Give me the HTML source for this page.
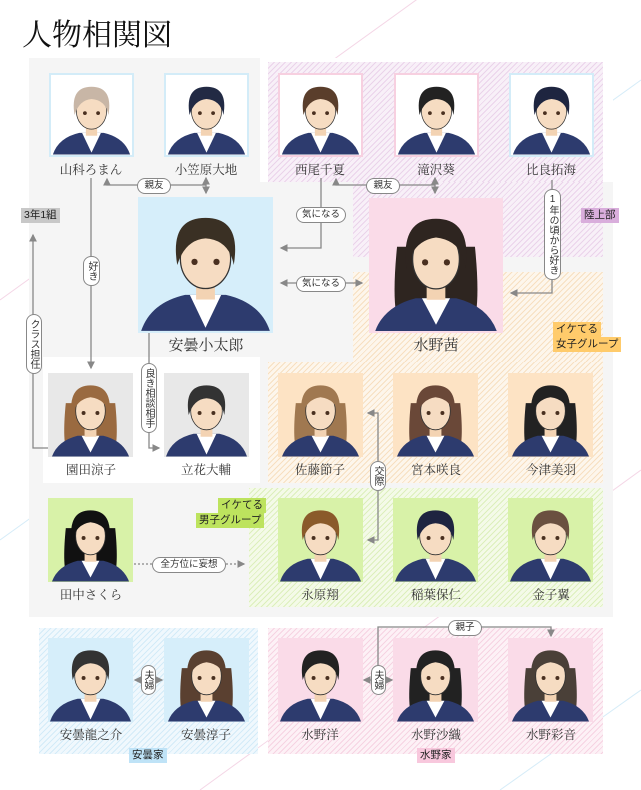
<!DOCTYPE html>
<html><head><meta charset="utf-8">
<style>
*{margin:0;padding:0;box-sizing:border-box}
body{width:641px;height:790px;background:#fff;position:relative;overflow:hidden;font-family:"Liberation Serif","Noto Serif CJK SC",serif}
.a{position:absolute}
.title{left:22px;top:10px;font-size:30px;color:#111;letter-spacing:0px;font-family:"Liberation Serif","Noto Serif CJK JP","Noto Serif CJK SC",serif}
.st-p{background:repeating-linear-gradient(135deg,#ead3ea 0 1px,#f8f0f8 1px 4px)}
.st-o{background:repeating-linear-gradient(135deg,#f7dfc0 0 1px,#fdf6ec 1px 4px)}
.st-g{background:repeating-linear-gradient(135deg,#dcefbb 0 1px,#f4fae8 1px 4px)}
.st-b{background:repeating-linear-gradient(135deg,#d3ebf8 0 1px,#f0f8fd 1px 4px)}
.st-k{background:repeating-linear-gradient(135deg,#f6d3e2 0 1px,#fdf1f6 1px 4px)}
.ph{position:absolute;width:85px;height:84px;overflow:hidden}
.ph svg{width:100%;height:100%;display:block}
.bw{background:#fff;border:2px solid #d3ecf8}
.bp{background:#fff;border:2px solid #f7d0e0}
.nm{position:absolute;font-size:12.5px;color:#333;text-align:center;width:120px;margin-left:-60px;white-space:nowrap}
.pill{position:absolute;background:#fff;border:1px solid #888;border-radius:8px;font-family:"Liberation Sans","Noto Sans CJK JP",sans-serif;font-size:9.5px;color:#333;text-align:center;line-height:14px;white-space:nowrap}
.v{writing-mode:vertical-rl;text-orientation:upright;line-height:15px;padding:4px 0;letter-spacing:0;font-size:10px}
.lab{position:absolute;font-family:"Liberation Sans","Noto Sans CJK JP",sans-serif;font-size:10.5px;color:#222;line-height:15px;padding:0 3px;white-space:nowrap}
</style></head><body>
<svg class="a" style="left:0;top:0" width="641" height="790">
<line x1="0" y1="300" x2="430" y2="-10" stroke="#f4d6e6" stroke-width="1"/>
<line x1="0" y1="540" x2="641" y2="80" stroke="#d6ecf8" stroke-width="1"/>
<line x1="200" y1="790" x2="641" y2="470" stroke="#f4d6e6" stroke-width="1"/>
<line x1="500" y1="790" x2="641" y2="690" stroke="#d6ecf8" stroke-width="1"/>
</svg>
<div class="a title">人物相関図</div>

<div class="a" style="left:29px;top:58px;width:231px;height:130px;background:#f5f5f5"></div>
<div class="a" style="left:29px;top:182px;width:584px;height:435px;background:#f5f5f5"></div>
<div class="a" style="left:260px;top:58px;width:353px;height:124px;background:#fff"></div>
<div class="a st-p" style="left:268px;top:62px;width:335px;height:120px"></div>
<div class="a st-p" style="left:353px;top:182px;width:250px;height:75px"></div>
<div class="a st-o" style="left:353px;top:272px;width:250px;height:92px"></div>
<div class="a st-o" style="left:268px;top:362px;width:335px;height:121px"></div>
<div class="a" style="left:43px;top:357px;width:217px;height:126px;background:#fff"></div>
<div class="a st-g" style="left:249px;top:488px;width:354px;height:119px"></div>
<div class="a st-b" style="left:39px;top:628px;width:219px;height:126px"></div>
<div class="a st-k" style="left:268px;top:628px;width:335px;height:126px"></div>

<svg width="0" height="0" style="position:absolute">
<defs>
<symbol id="m" viewBox="0 0 86 84">
<path d="M2 84 Q8 66 30 61 L56 61 Q78 66 84 84 Z" fill="#2d3b6e"/>
<path d="M33 61 L43 82 L53 61 Z" fill="#fff"/>
<rect x="37" y="50" width="12" height="14" fill="#f3d3b3"/>
<ellipse cx="43" cy="38" rx="16" ry="19" fill="#f6dcc2" stroke="#333" stroke-width="0.8"/>
<path d="M25 42 Q20 12 43 12 Q66 12 61 42 Q58 26 43 25 Q30 26 25 42 Z" fill="currentColor"/>
<circle cx="36" cy="40" r="2" fill="#4a3020"/><circle cx="50" cy="40" r="2" fill="#4a3020"/>
</symbol>
<symbol id="f" viewBox="0 0 86 84">
<path d="M18 30 Q14 70 20 82 L66 82 Q72 70 68 30 Z" fill="currentColor"/>
<path d="M4 84 Q10 68 30 63 L56 63 Q76 68 82 84 Z" fill="#2d3b6e"/>
<path d="M34 63 L43 80 L52 63 Z" fill="#fff"/>
<rect x="37" y="50" width="12" height="14" fill="#f3d3b3"/>
<ellipse cx="43" cy="38" rx="15" ry="19" fill="#f6dcc2" stroke="#333" stroke-width="0.8"/>
<path d="M24 44 Q20 12 43 12 Q66 12 62 44 Q60 26 43 24 Q28 26 24 44 Z" fill="currentColor"/>
<circle cx="36" cy="40" r="2" fill="#4a3020"/><circle cx="50" cy="40" r="2" fill="#4a3020"/>
</symbol>
</defs>
</svg>

<div class="ph bw" style="left:49px;top:73px"><svg><use href="#m" style="color:#c8b6a6"/></svg></div>
<div class="ph bw" style="left:164px;top:73px"><svg><use href="#m" style="color:#222a44"/></svg></div>
<div class="ph bp" style="left:278px;top:73px"><svg><use href="#m" style="color:#5a3e2b"/></svg></div>
<div class="ph bp" style="left:394px;top:73px"><svg><use href="#m" style="color:#222"/></svg></div>
<div class="ph bw" style="left:509px;top:73px"><svg><use href="#m" style="color:#1e2540"/></svg></div>
<div class="nm" style="left:91px;top:160px">山科ろまん</div>
<div class="nm" style="left:206px;top:160px">小笠原大地</div>
<div class="nm" style="left:320px;top:160px">西尾千夏</div>
<div class="nm" style="left:436px;top:160px">滝沢葵</div>
<div class="nm" style="left:551px;top:160px">比良拓海</div>

<div class="ph" style="left:138px;top:197px;width:135px;height:136px;background:#d6eefa"><svg><use href="#m" style="color:#3a3024"/></svg></div>
<div class="ph" style="left:369px;top:198px;width:134px;height:135px;background:#fadbe8"><svg><use href="#f" style="color:#2e2520"/></svg></div>
<div class="nm" style="left:206px;top:334px;font-size:15px">安曇小太郎</div>
<div class="nm" style="left:436px;top:334px;font-size:15px">水野茜</div>

<div class="ph" style="left:48px;top:373px;background:#e8e8e8"><svg><use href="#f" style="color:#9a6a40"/></svg></div>
<div class="ph" style="left:164px;top:373px;background:#e8e8e8"><svg><use href="#m" style="color:#333"/></svg></div>
<div class="ph" style="left:278px;top:373px;background:#fde3c4"><svg><use href="#f" style="color:#a07850"/></svg></div>
<div class="ph" style="left:393px;top:373px;background:#fde3c4"><svg><use href="#f" style="color:#6a4838"/></svg></div>
<div class="ph" style="left:508px;top:373px;background:#fde3c4"><svg><use href="#f" style="color:#222"/></svg></div>
<div class="nm" style="left:91px;top:460px">園田涼子</div>
<div class="nm" style="left:206px;top:460px">立花大輔</div>
<div class="nm" style="left:320px;top:460px">佐藤節子</div>
<div class="nm" style="left:436px;top:460px">宮本咲良</div>
<div class="nm" style="left:551px;top:460px">今津美羽</div>

<div class="ph" style="left:48px;top:498px;background:#d8f2a8"><svg><use href="#f" style="color:#111"/></svg></div>
<div class="ph" style="left:278px;top:498px;background:#d8f2a8"><svg><use href="#m" style="color:#8a5a2a"/></svg></div>
<div class="ph" style="left:393px;top:498px;background:#d8f2a8"><svg><use href="#m" style="color:#1e2440"/></svg></div>
<div class="ph" style="left:508px;top:498px;background:#d8f2a8"><svg><use href="#m" style="color:#6a5040"/></svg></div>
<div class="nm" style="left:91px;top:585px">田中さくら</div>
<div class="nm" style="left:320px;top:585px">永原翔</div>
<div class="nm" style="left:436px;top:585px">稲葉保仁</div>
<div class="nm" style="left:551px;top:585px">金子翼</div>

<div class="ph" style="left:48px;top:638px;background:#d6eefa"><svg><use href="#m" style="color:#333"/></svg></div>
<div class="ph" style="left:164px;top:638px;background:#d6eefa"><svg><use href="#f" style="color:#5a4030"/></svg></div>
<div class="ph" style="left:278px;top:638px;background:#fadbe8"><svg><use href="#m" style="color:#222"/></svg></div>
<div class="ph" style="left:393px;top:638px;background:#fadbe8"><svg><use href="#f" style="color:#222"/></svg></div>
<div class="ph" style="left:508px;top:638px;background:#fadbe8"><svg><use href="#f" style="color:#4a4038"/></svg></div>
<div class="nm" style="left:91px;top:725px">安曇龍之介</div>
<div class="nm" style="left:206px;top:725px">安曇淳子</div>
<div class="nm" style="left:320px;top:725px">水野洋</div>
<div class="nm" style="left:436px;top:725px">水野沙織</div>
<div class="nm" style="left:551px;top:725px">水野彩音</div>

<svg class="a" style="left:0;top:0" width="641" height="790">
<defs><marker id="ar" viewBox="0 0 6 6" refX="5" refY="3" markerWidth="6" markerHeight="6" orient="auto"><path d="M0 0 L6 3 L0 6 Z" fill="#888"/></marker></defs>
<g stroke="#888" stroke-width="1.3" fill="none">
<path d="M206 185 H107 V179" marker-end="url(#ar)"/>
<line x1="206" y1="185" x2="206" y2="178" marker-end="url(#ar)"/>
<line x1="206" y1="185" x2="206" y2="193" marker-end="url(#ar)"/>
<path d="M435 185 H336 V179" marker-end="url(#ar)"/>
<line x1="435" y1="185" x2="435" y2="178" marker-end="url(#ar)"/>
<line x1="435" y1="185" x2="435" y2="193" marker-end="url(#ar)"/>
<path d="M321 178 V248 H281" marker-end="url(#ar)"/>
<line x1="321" y1="283" x2="281" y2="283" marker-end="url(#ar)"/>
<line x1="321" y1="283" x2="362" y2="283" marker-end="url(#ar)"/>
<path d="M552 180 V293 H511" marker-end="url(#ar)"/>
<line x1="91" y1="178" x2="91" y2="368" marker-end="url(#ar)"/>
<path d="M48 448 H33 V235" marker-end="url(#ar)"/>
<path d="M149 333 V448 H159" marker-end="url(#ar)"/>
<path d="M369 413 H378 V540 H369" />
<path d="M374 413 H368" marker-end="url(#ar)"/>
<path d="M374 540 H368" marker-end="url(#ar)"/>
<path d="M134 564 H244" stroke-dasharray="2 2" marker-end="url(#ar)"/>
<line x1="148" y1="680" x2="135" y2="680" marker-end="url(#ar)"/>
<line x1="148" y1="680" x2="162" y2="680" marker-end="url(#ar)"/>
<line x1="378" y1="680" x2="364" y2="680" marker-end="url(#ar)"/>
<line x1="378" y1="680" x2="392" y2="680" marker-end="url(#ar)"/>
<path d="M378 666 V627 H551 V636" marker-end="url(#ar)"/>
</g>
</svg>

<div class="pill" style="left:137px;top:178px;width:34px">親友</div>
<div class="pill" style="left:366px;top:178px;width:34px">親友</div>
<div class="pill" style="left:296px;top:207px;width:50px">気になる</div>
<div class="pill" style="left:296px;top:276px;width:50px">気になる</div>
<div class="pill v" style="left:544px;top:189px;width:17px">1年の頃から好き</div>
<div class="pill v" style="left:83px;top:256px;width:17px">好き</div>
<div class="pill v" style="left:26px;top:314px;width:16px">クラス担任</div>
<div class="pill v" style="left:141px;top:363px;width:16px">良き相談相手</div>
<div class="pill v" style="left:370px;top:461px;width:16px">交際</div>
<div class="pill" style="left:152px;top:557px;width:74px">全方位に妄想</div>
<div class="pill v" style="left:141px;top:665px;width:15px">夫婦</div>
<div class="pill v" style="left:371px;top:665px;width:15px">夫婦</div>
<div class="pill" style="left:448px;top:620px;width:34px">親子</div>

<div class="lab" style="left:21px;top:208px;background:#c8c8c8">3年1組</div>
<div class="lab" style="left:581px;top:208px;background:#d9aedc">陸上部</div>
<div class="lab" style="left:553px;top:322px;background:#ffcb6b">イケてる</div>
<div class="lab" style="left:553px;top:337px;background:#ffcb6b">女子グループ</div>
<div class="lab" style="left:218px;top:498px;background:#bde35e">イケてる</div>
<div class="lab" style="left:196px;top:513px;background:#bde35e">男子グループ</div>
<div class="lab" style="left:129px;top:748px;background:#bfe3f7">安曇家</div>
<div class="lab" style="left:417px;top:748px;background:#f8c8dd">水野家</div>
</body></html>
